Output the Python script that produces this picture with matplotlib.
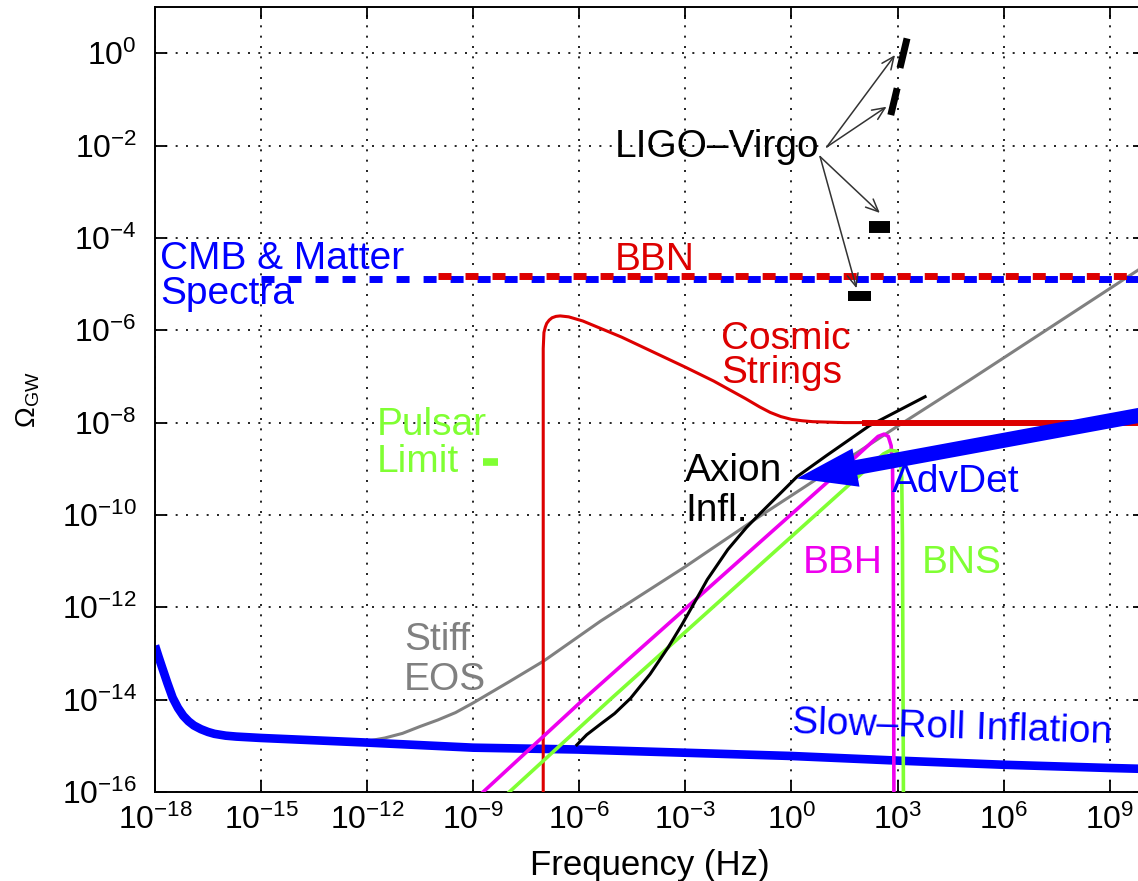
import numpy as np
import matplotlib
matplotlib.use("Agg")
import matplotlib.pyplot as plt
from matplotlib.ticker import NullLocator, FixedLocator, FixedFormatter

plt.rcParams['font.family'] = ['Liberation Sans', 'DejaVu Sans']
plt.rcParams['mathtext.fontset'] = 'custom'
plt.rcParams['mathtext.rm'] = 'Liberation Sans'
plt.rcParams['mathtext.it'] = 'Liberation Sans:italic'
plt.rcParams['mathtext.bf'] = 'Liberation Sans:bold'

# ---------------- data (log10 of frequency / Omega) ----------------
x_tick_exp = [-18, -15, -12, -9, -6, -3, 0, 3, 6, 9]
y_tick_exp = [-16, -14, -12, -10, -8, -6, -4, -2, 0]

slow_roll_logf = [-18, -17.9, -17.8, -17.65, -17.5, -17.35, -17.2, -17.05, -16.9, -16.7, -16.5, -16.32,
                  -16.0, -15.7, -15, -13.5, -12, -9, -6.04, -3, 0, 3, 6, 9, 10]
slow_roll_logo = [-12.83, -13.07, -13.3, -13.64, -13.96, -14.18, -14.35, -14.47, -14.56, -14.64, -14.7, -14.74,
                  -14.78, -14.8, -14.83, -14.88, -14.93, -15.04, -15.08, -15.15, -15.22, -15.32, -15.41, -15.48, -15.5]

stiff_logf = [-12.6, -12.0, -11.5, -11.0, -10.5, -10.0, -9.5, -9.0, -8.0, -7.0, -5.4, -3.0, -0.9, 1.0, 3.0, 5.0, 7.0, 9.8, 10.0]
stiff_logo = [-14.93, -14.9, -14.83, -14.73, -14.58, -14.44, -14.28, -14.07, -13.62, -13.16, -12.3, -11.12, -10.03, -9.08, -8.08, -7.1, -6.1, -4.7, -4.6]

strings_logf = [-7.02, -7.02, -7.0, -6.96, -6.92, -6.85, -6.77, -6.66, -6.54, -6.3, -5.9, -4.8, -3.0, -2.2, -1.3, -0.9, -0.6, -0.3, 0.0, 0.3, 0.6, 1.5, 2.5]
strings_logo = [-16.5, -6.4, -6.05, -5.93, -5.85, -5.78, -5.73, -5.7, -5.69, -5.71, -5.8, -6.15, -6.8, -7.1, -7.48, -7.66, -7.78, -7.87, -7.93, -7.96, -7.98, -8.0, -8.0]
strings_flat_logf = [2.0, 10.0]
strings_flat_logo = [-8.0, -8.0]

bbh_logf = [-8.72, -5.89, 1.75, 2.45, 2.62, 2.74, 2.82, 2.86, 2.88, 2.90]
bbh_logo = [-16.0, -14.0, -8.79, -8.3, -8.25, -8.3, -8.5, -9.0, -10.5, -16.5]

bns_logf = [-7.98, -5.13, 2.6, 2.8, 2.98, 3.08, 3.12, 3.14, 3.17]
bns_logo = [-16.0, -14.0, -8.68, -8.6, -8.62, -8.75, -9.2, -10.5, -16.5]

axion_logf = [-6.07, -5.79, -5.40, -5.0, -4.55, -4.0, -3.48, -3.1, -2.70, -2.38, -1.80, -1.27, -0.90, 0.16, 1.0, 2.2, 3.78]
axion_logo = [-14.98, -14.76, -14.53, -14.30, -13.97, -13.45, -12.86, -12.38, -11.84, -11.40, -10.75, -10.27, -9.98, -9.17, -8.71, -8.07, -7.44]

cmb_logf = [-15, 10]
cmb_logo = [-4.88, -4.88]
bbn_logf = [-10, 10]
bbn_logo = [-4.83, -4.83]

pulsar_logf = [-8.72, -8.30]
pulsar_logo = [-8.85, -8.85]

# LIGO-Virgo limits
ligo_logf0 = [3.07, 2.81, 2.20, 1.61]
ligo_logo0 = [-0.32, -1.34, -3.76, -5.25]
ligo_logf1 = [3.27, 2.99, 2.78, 2.24]
ligo_logo1 = [0.32, -0.76, -3.76, -5.25]
ligo_lw = [5, 5, 8.6, 7.2]

# LIGO-Virgo annotation arrows
ligo_arrow_start_logf = [1.0, 1.0, 0.81, 0.81]
ligo_arrow_start_logo = [-2.03, -2.03, -2.24, -2.24]
ligo_arrow_head_logf = [2.93, 2.69, 2.50, 1.84]
ligo_arrow_head_logo = [-0.04, -1.16, -3.46, -5.09]

advdet_tip = (0.156, -9.21)
advdet_tail = (10.0, -7.82)

# ---------------- figure ----------------
W, H = 1138, 881
fig = plt.figure(figsize=(W / 100, H / 100), dpi=100)
ax = fig.add_axes([155 / W, (H - 792) / H, 990 / W, 785 / H])
ax.set_xscale('log')
ax.set_yscale('log')
ax.set_xlim(1e-18, 1e10)
ax.set_ylim(1e-16, 1e1)

p = lambda a: 10.0 ** np.asarray(a, dtype=float)

BLUE = '#0000ff'
RED = '#dd0000'
MAG = '#ee00ee'
GREEN = '#80ff33'
GRAY = '#808080'

ax.plot(p(cmb_logf), p(cmb_logo), color=BLUE, lw=5, dashes=(1.87, 2.02), solid_capstyle='butt', zorder=3)
ax.plot(p(bbn_logf), p(bbn_logo), color=RED, lw=5, dashes=(1.87, 2.02), solid_capstyle='butt', zorder=3.1)

ax.plot(p(stiff_logf), p(stiff_logo), color=GRAY, lw=2.2, zorder=1.9)
ax.plot(p(slow_roll_logf), p(slow_roll_logo), color=BLUE, lw=6.2, solid_capstyle='butt', zorder=2)
ax.plot(p(strings_logf), p(strings_logo), color=RED, lw=2.2, zorder=3)
ax.plot(p(bbh_logf), p(bbh_logo), color=MAG, lw=2.6, zorder=3)
ax.plot(p(bns_logf), p(bns_logo), color=GREEN, lw=2.6, zorder=3)
ax.plot(p(axion_logf), p(axion_logo), color='k', lw=2.2, zorder=3.2)
ax.plot(p(strings_flat_logf), p(strings_flat_logo), color=RED, lw=4.3, solid_capstyle='butt', zorder=3.3)
ax.plot(p(pulsar_logf), p(pulsar_logo), color=GREEN, lw=5.5, solid_capstyle='butt', zorder=3)

for f0, o0, f1, o1, lw in zip(ligo_logf0, ligo_logo0, ligo_logf1, ligo_logo1, ligo_lw):
    ax.plot(p([f0, f1]), p([o0, o1]), color='k', lw=lw, solid_capstyle='butt', zorder=4)

for fs, os_, fh, oh in zip(ligo_arrow_start_logf, ligo_arrow_start_logo, ligo_arrow_head_logf, ligo_arrow_head_logo):
    ax.annotate('', xy=(10 ** fh, 10 ** oh), xytext=(10 ** fs, 10 ** os_),
                arrowprops=dict(arrowstyle='->,head_length=0.45,head_width=0.2',
                                color='#333333', lw=1.1, shrinkA=0, shrinkB=0,
                                mutation_scale=20), zorder=5)

ax.annotate('', xy=(10 ** advdet_tip[0], 10 ** advdet_tip[1]),
            xytext=(10 ** advdet_tail[0], 10 ** advdet_tail[1]),
            arrowprops=dict(arrowstyle='simple,head_length=1.08,head_width=0.70,tail_width=0.27',
                            mutation_scale=40, color=BLUE, lw=0, shrinkA=0, shrinkB=0),
            zorder=6, annotation_clip=False)

# ticks & grid
ax.xaxis.set_major_locator(FixedLocator([10.0 ** e for e in x_tick_exp]))
ax.yaxis.set_major_locator(FixedLocator([10.0 ** e for e in y_tick_exp]))
ax.xaxis.set_major_formatter(FixedFormatter([r'$\mathdefault{10^{%d}}$' % e for e in x_tick_exp]))
ax.yaxis.set_major_formatter(FixedFormatter([r'$\mathdefault{10^{%d}}$' % e for e in y_tick_exp]))
ax.xaxis.set_minor_locator(NullLocator())
ax.yaxis.set_minor_locator(NullLocator())
ax.tick_params(which='major', direction='in', length=8.6, width=1.3, top=True, right=True,
               labelsize=23, colors='k')
ax.tick_params(axis='x', pad=9)
ax.tick_params(axis='y', pad=13)
ax.grid(True, color='k', lw=1.2, linestyle=(0, (1.2, 5.0)))
ax.set_axisbelow(True)
for s in ax.spines.values():
    s.set_linewidth(1.4)

ax.set_xlabel('Frequency (Hz)', fontsize=25)
ax.xaxis.set_label_coords(0.5, (792 - 849) / 785)
ax.set_ylabel(r'$\mathdefault{\Omega_{GW}}$', fontsize=20)
ax.yaxis.set_label_coords((42 - 155) / 990, 0.5)

LFS = 28


def label(s, x, y, color, rot=0.0):
    fig.text(x / W, 1 - y / H, s, color=color, fontsize=LFS, ha='left', va='baseline',
             rotation=rot, rotation_mode='anchor', zorder=10)


label('CMB & Matter', 160, 269, BLUE)
label('Spectra', 160, 304, BLUE)
label('BBN', 615, 270, RED)
label('LIGO\u2013Virgo', 615, 157, 'k')
label('Cosmic', 721, 349, RED)
label('Strings', 721, 383, RED)
label('Pulsar', 377, 435, GREEN)
label('Limit', 377, 472, GREEN)
label('Axion', 685, 481, 'k')
label('Infl.', 685, 521, 'k')
label('AdvDet', 892, 492, BLUE)
label('BBH', 803, 573, MAG)
label('BNS', 922, 573, GREEN)
label('Stiff', 404, 650, GRAY)
label('EOS', 404, 690, GRAY)
label('Slow\u2013Roll Inflation', 792, 733, BLUE, rot=-1.8)

fig.savefig('out.png', dpi=100)
